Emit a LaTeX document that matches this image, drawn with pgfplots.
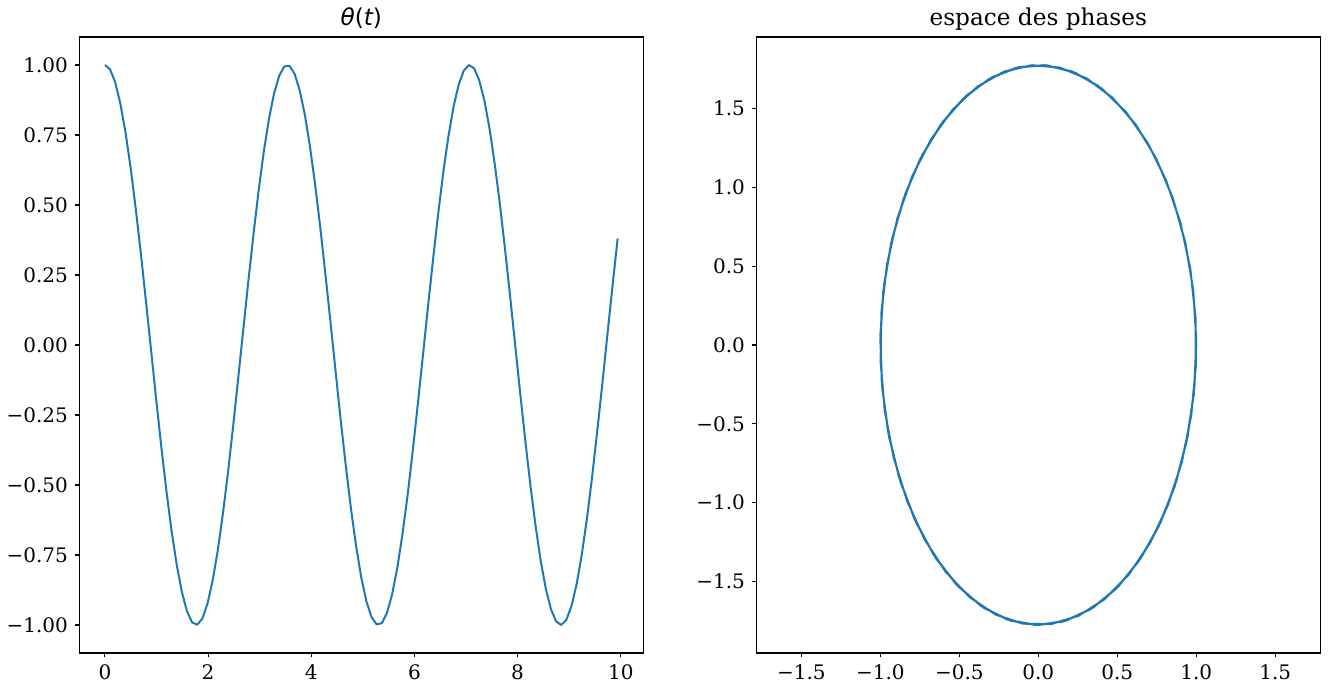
\documentclass[border=0pt]{standalone}
\usepackage{fontspec}
\setmainfont{DejaVu Serif}
\newfontfamily\mtsans{DejaVu Sans}
\usepackage{pgfplots}
\usepackage{pgfplotstable}
\pgfplotsset{compat=1.18}
\definecolor{mplblue}{RGB}{31,119,180}

% t, theta(t), dtheta/dt
\pgfplotstableread{
t theta omega
0.000 1.00000 0.0000
0.099 0.98443 -0.3124
0.199 0.93822 -0.6151
0.298 0.86280 -0.8987
0.398 0.76050 -1.1543
0.497 0.63450 -1.3739
0.596 0.48876 -1.5507
0.696 0.32780 -1.6793
0.795 0.15664 -1.7556
0.895 -0.01940 -1.7772
0.994 -0.19484 -1.7435
1.093 -0.36421 -1.6555
1.193 -0.52223 -1.5159
1.292 -0.66400 -1.3291
1.392 -0.78510 -1.1010
1.491 -0.88174 -0.8385
1.590 -0.95093 -0.5500
1.690 -0.99051 -0.2443
1.789 -0.99925 0.0689
1.889 -0.97689 0.3801
1.988 -0.92408 0.6794
2.087 -0.84251 0.9575
2.187 -0.73472 1.2058
2.286 -0.60404 1.4166
2.386 -0.45455 1.5833
2.485 -0.29091 1.7006
2.584 -0.11821 1.7650
2.684 0.05817 1.7745
2.783 0.23274 1.7287
2.883 0.40005 1.6291
2.982 0.55492 1.4787
3.081 0.69251 1.2823
3.181 0.80853 1.0460
3.280 0.89937 0.7771
3.380 0.96222 0.4840
3.479 0.99509 0.1758
3.578 0.99699 -0.1378
3.678 0.96785 -0.4471
3.777 0.90856 -0.7426
3.877 0.82099 -1.0149
3.976 0.70785 -1.2556
4.075 0.57267 -1.4572
4.175 0.41966 -1.6134
4.274 0.25359 -1.7194
4.374 0.07961 -1.7718
4.473 -0.09685 -1.7691
4.572 -0.27029 -1.7113
4.672 -0.43530 -1.6003
4.771 -0.58677 -1.4393
4.871 -0.71996 -1.2336
4.970 -0.83075 -0.9895
5.069 -0.91566 -0.7145
5.169 -0.97205 -0.4173
5.268 -0.99818 -0.1071
5.368 -0.99323 0.2064
5.467 -0.95736 0.5135
5.566 -0.89168 0.8046
5.666 -0.79823 1.0707
5.765 -0.67992 1.3034
5.865 -0.54044 1.4956
5.964 -0.38413 1.6411
6.063 -0.21587 1.7356
6.163 -0.04088 1.7760
6.262 0.13538 1.7611
6.362 0.30743 1.6914
6.461 0.46989 1.5690
6.560 0.61774 1.3978
6.660 0.74634 1.1830
6.759 0.85171 0.9314
6.859 0.93056 0.6508
6.958 0.98043 0.3500
7.057 0.99977 0.0382
7.157 0.98798 -0.2747
7.256 0.94543 -0.5792
7.356 0.87344 -0.8655
7.455 0.77426 -1.1249
7.554 0.65096 -1.3493
7.654 0.50739 -1.5317
7.753 0.34803 -1.6664
7.853 0.17784 -1.7492
7.952 0.00209 -1.7775
8.051 -0.17371 -1.7505
8.151 -0.34410 -1.6690
8.250 -0.50378 -1.5354
8.350 -0.64778 -1.3542
8.449 -0.77159 -1.1307
8.548 -0.87140 -0.8720
8.648 -0.94406 -0.5862
8.747 -0.98733 -0.2821
8.847 -0.99985 0.0308
8.946 -0.98125 0.3427
9.045 -0.93208 0.6439
9.145 -0.85390 0.9251
9.244 -0.74912 1.1775
9.344 -0.62102 1.3932
9.443 -0.47359 1.5655
9.542 -0.31141 1.6891
9.642 -0.13952 1.7601
9.741 0.03670 1.7763
9.841 0.21178 1.7372
9.940 0.38026 1.6440
}\pendule

\pgfplotsset{
  panel/.style={
    scale only axis, width=282pt, height=308pt, anchor=south west,
    axis line style={line width=0.55pt},
    tick align=outside, xtick pos=lower, ytick pos=left,
    major tick length=2.2pt, tick style={black, line width=0.55pt},
    ticklabel style={font=\fontsize{10}{11}\selectfont},
    every axis title/.style={at={(0.5,1)}, anchor=base, yshift=5.5pt,
      font=\fontsize{11.6}{13}\selectfont},
  },
  courbe/.style={mplblue, line width=1pt, line join=round, no markers},
}

\begin{document}
\begin{tikzpicture}
\path[use as bounding box] (0,0) rectangle (664.5pt,345.5pt);

\begin{axis}[panel, at={(39.65pt,19pt)},
  xmin=-0.497, xmax=10.437, ymin=-1.1, ymax=1.1,
  xtick={0,2,4,6,8,10}, xticklabels={0,2,4,6,8,10},
  ytick={-1,-0.75,-0.5,-0.25,0,0.25,0.5,0.75,1},
  yticklabels={−1.00,−0.75,−0.50,−0.25,0.00,0.25,0.50,0.75,1.00},
  title={{\mtsans\itshape θ}{\mtsans(}{\mtsans\itshape t}{\mtsans)}},
]
\addplot[courbe] table[x=t, y=theta] {\pendule};
\end{axis}

\begin{axis}[panel, at={(378.15pt,19pt)},
  xmin=-1.785, xmax=1.785, ymin=-1.955, ymax=1.955,
  xtick={-1.5,-1,-0.5,0,0.5,1,1.5},
  xticklabels={−1.5,−1.0,−0.5,0.0,0.5,1.0,1.5},
  ytick={-1.5,-1,-0.5,0,0.5,1,1.5},
  yticklabels={−1.5,−1.0,−0.5,0.0,0.5,1.0,1.5},
  title={espace des phases},
]
\addplot[courbe] table[x=theta, y=omega] {\pendule};
\end{axis}
\end{tikzpicture}
\end{document}
